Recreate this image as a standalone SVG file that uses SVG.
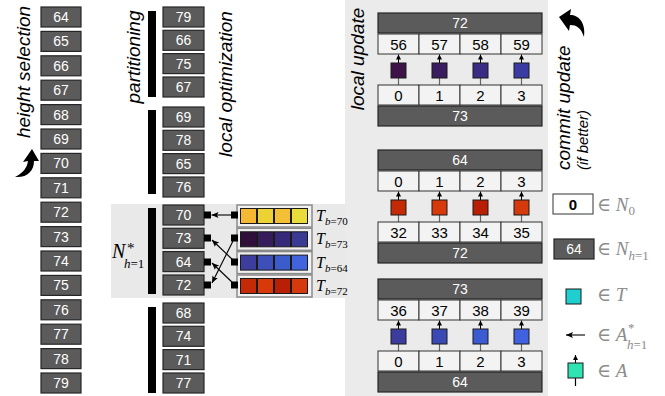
<svg xmlns="http://www.w3.org/2000/svg" width="665" height="396" viewBox="0 0 665 396">
<defs>
<style>
.nb{fill:#5b5b5b;stroke:#262626;stroke-width:1.2}
.nt{fill:#fff;font-family:"Liberation Sans",Arial,sans-serif;font-size:14px;text-anchor:middle}
.wc{fill:#f3f3f3;stroke:#333;stroke-width:1}
.wt{fill:#000;font-family:"Liberation Sans",Arial,sans-serif;font-size:15px;text-anchor:middle}
.lbl{fill:#000;font-family:"Liberation Sans",Arial,sans-serif;font-size:19px;font-style:italic;text-anchor:middle}
.bar{fill:#000}
.sq{stroke:#1a1a1a;stroke-width:1}
.up{stroke:#000;stroke-width:1;marker-end:url(#ahs)}
.dn{stroke:#666;stroke-width:1.2}
.pin{fill:#000}
.con{stroke:#000;stroke-width:1.1;fill:none;marker-end:url(#ah)}
.tb{fill:#f2f2f2;stroke:#8a8a8a;stroke-width:1.5}
.m{font-family:"Liberation Serif","DejaVu Serif",serif;font-style:italic;fill:#000}
.lg{font-family:"Liberation Serif","DejaVu Serif",serif;fill:#8c8c8c;font-size:19px}
.lgs{font-family:"Liberation Serif","DejaVu Serif",serif;fill:#8c8c8c;font-size:13px}
</style>
<marker id="ah" markerUnits="userSpaceOnUse" markerWidth="7" markerHeight="6" refX="7" refY="3" orient="auto"><path d="M0,0 L7,3 L0,6 L1.5,3 z" fill="#000"/></marker>
<marker id="ahs" markerUnits="userSpaceOnUse" markerWidth="5" markerHeight="5" refX="5" refY="2.5" orient="auto"><path d="M0,0 L5,2.5 L0,5 z" fill="#000"/></marker>
</defs>
<rect width="665" height="396" fill="#fff"/>
<rect x="111" y="204" width="236" height="94" fill="#e9e9e9"/>
<rect x="345" y="0" width="203" height="396" fill="#ebebeb"/>

<g id="labels">
<text class="lbl" transform="translate(30,72) rotate(-90)">height selection</text>
<text class="lbl" transform="translate(140,57) rotate(-90)">partitioning</text>
<text class="lbl" transform="translate(232,84) rotate(-90)">local optimization</text>
<text class="lbl" transform="translate(364,59) rotate(-90)">local update</text>
<text class="lbl" style="text-anchor:start" transform="translate(570,170) rotate(-90)">commit update</text>
<text class="lbl" style="text-anchor:start;font-size:15px" transform="translate(588,170) rotate(-90)">(if better)</text>
<path id="arrow-left" d="M15,177 C23,173 27,168 28,161 L23,162 L32,149 L39,161 L34,161 C34,171 27,178 15,177 Z" fill="#000"/>
<path id="arrow-right" d="M559,17 L571,9 L570,15 C579,15 586,23 584,37 C581,28 577,25 570,25 L569,31 Z" fill="#000"/>
</g>

<g id="column1">
<g id="c1-64"><rect class="nb" x="41" y="7" width="40" height="20"/><text class="nt" x="61" y="22">64</text></g>
<g id="c1-65"><rect class="nb" x="41" y="31.4" width="40" height="20"/><text class="nt" x="61" y="46.4">65</text></g>
<g id="c1-66"><rect class="nb" x="41" y="55.8" width="40" height="20"/><text class="nt" x="61" y="70.8">66</text></g>
<g id="c1-67"><rect class="nb" x="41" y="80.2" width="40" height="20"/><text class="nt" x="61" y="95.2">67</text></g>
<g id="c1-68"><rect class="nb" x="41" y="104.6" width="40" height="20"/><text class="nt" x="61" y="119.6">68</text></g>
<g id="c1-69"><rect class="nb" x="41" y="129" width="40" height="20"/><text class="nt" x="61" y="144">69</text></g>
<g id="c1-70"><rect class="nb" x="41" y="153.4" width="40" height="20"/><text class="nt" x="61" y="168.4">70</text></g>
<g id="c1-71"><rect class="nb" x="41" y="177.8" width="40" height="20"/><text class="nt" x="61" y="192.8">71</text></g>
<g id="c1-72"><rect class="nb" x="41" y="202.2" width="40" height="20"/><text class="nt" x="61" y="217.2">72</text></g>
<g id="c1-73"><rect class="nb" x="41" y="226.6" width="40" height="20"/><text class="nt" x="61" y="241.6">73</text></g>
<g id="c1-74"><rect class="nb" x="41" y="251" width="40" height="20"/><text class="nt" x="61" y="266">74</text></g>
<g id="c1-75"><rect class="nb" x="41" y="275.4" width="40" height="20"/><text class="nt" x="61" y="290.4">75</text></g>
<g id="c1-76"><rect class="nb" x="41" y="299.8" width="40" height="20"/><text class="nt" x="61" y="314.8">76</text></g>
<g id="c1-77"><rect class="nb" x="41" y="324.2" width="40" height="20"/><text class="nt" x="61" y="339.2">77</text></g>
<g id="c1-78"><rect class="nb" x="41" y="348.6" width="40" height="20"/><text class="nt" x="61" y="363.6">78</text></g>
<g id="c1-79"><rect class="nb" x="41" y="373" width="40" height="20"/><text class="nt" x="61" y="388">79</text></g>
</g>

<g id="column2">
<rect class="bar" x="148" y="11" width="8" height="86"/>
<rect class="bar" x="148" y="110" width="8" height="84"/>
<rect class="bar" x="148" y="208" width="8" height="86"/>
<rect class="bar" x="148" y="307" width="8" height="86"/>
<g id="c2-79"><rect class="nb" x="163" y="7" width="41" height="20"/><text class="nt" x="183.5" y="22">79</text></g>
<g id="c2-66"><rect class="nb" x="163" y="30.3" width="41" height="20"/><text class="nt" x="183.5" y="45.3">66</text></g>
<g id="c2-75"><rect class="nb" x="163" y="53.6" width="41" height="20"/><text class="nt" x="183.5" y="68.6">75</text></g>
<g id="c2-67"><rect class="nb" x="163" y="77" width="41" height="20"/><text class="nt" x="183.5" y="92">67</text></g>
<g id="c2-69"><rect class="nb" x="163" y="107" width="41" height="20"/><text class="nt" x="183.5" y="122">69</text></g>
<g id="c2-78"><rect class="nb" x="163" y="130.3" width="41" height="20"/><text class="nt" x="183.5" y="145.3">78</text></g>
<g id="c2-65"><rect class="nb" x="163" y="153.6" width="41" height="20"/><text class="nt" x="183.5" y="168.6">65</text></g>
<g id="c2-76"><rect class="nb" x="163" y="177" width="41" height="20"/><text class="nt" x="183.5" y="192">76</text></g>
<g id="c2-70"><rect class="nb" x="163" y="205" width="41" height="20"/><text class="nt" x="183.5" y="220">70</text><rect class="pin" x="204" y="211.5" width="7" height="7"/></g>
<g id="c2-73"><rect class="nb" x="163" y="228.3" width="41" height="20"/><text class="nt" x="183.5" y="243.3">73</text><rect class="pin" x="204" y="234.5" width="7" height="7"/></g>
<g id="c2-64"><rect class="nb" x="163" y="251.6" width="41" height="20"/><text class="nt" x="183.5" y="266.6">64</text><rect class="pin" x="204" y="258.5" width="7" height="7"/></g>
<g id="c2-72"><rect class="nb" x="163" y="275" width="41" height="20"/><text class="nt" x="183.5" y="290">72</text><rect class="pin" x="204" y="281.5" width="7" height="7"/></g>
<g id="c2-68"><rect class="nb" x="163" y="303" width="41" height="20"/><text class="nt" x="183.5" y="318">68</text></g>
<g id="c2-74"><rect class="nb" x="163" y="326.3" width="41" height="20"/><text class="nt" x="183.5" y="341.3">74</text></g>
<g id="c2-71"><rect class="nb" x="163" y="349.6" width="41" height="20"/><text class="nt" x="183.5" y="364.6">71</text></g>
<g id="c2-77"><rect class="nb" x="163" y="373" width="41" height="20"/><text class="nt" x="183.5" y="388">77</text></g>
<text class="m" x="112" y="258" font-size="20">N</text>
<text class="m" x="127" y="253" font-size="15" style="font-style:normal">*</text>
<text class="m" x="124" y="268" font-size="13">h<tspan style="font-style:normal">=1</tspan></text>
</g>

<g id="tiles">
<g id="t70"><rect class="tb" x="237" y="205" width="75" height="22"/>
<rect class="sq" x="240.5" y="208.5" width="16" height="15" fill="#f6b833"/><rect class="sq" x="257.5" y="208.5" width="16" height="15" fill="#ecd234"/><rect class="sq" x="274.5" y="208.5" width="16" height="15" fill="#f2bf35"/><rect class="sq" x="291.5" y="208.5" width="16" height="15" fill="#e8dc3a"/>
<rect class="pin" x="231" y="211.5" width="7" height="7"/>
<text class="m" x="316" y="221" font-size="16">T</text><text class="m" x="325" y="225" font-size="11">b<tspan style="font-style:normal">=70</tspan></text></g>
<g id="t73"><rect class="tb" x="237" y="228.3" width="75" height="22"/>
<rect class="sq" x="240.5" y="231.8" width="16" height="15" fill="#30103a"/><rect class="sq" x="257.5" y="231.8" width="16" height="15" fill="#361c5a"/><rect class="sq" x="274.5" y="231.8" width="16" height="15" fill="#36297a"/><rect class="sq" x="291.5" y="231.8" width="16" height="15" fill="#3a3a95"/>
<rect class="pin" x="231" y="234.5" width="7" height="7"/>
<text class="m" x="316" y="244.3" font-size="16">T</text><text class="m" x="325" y="248.3" font-size="11">b<tspan style="font-style:normal">=73</tspan></text></g>
<g id="t64"><rect class="tb" x="237" y="251.6" width="75" height="22"/>
<rect class="sq" x="240.5" y="255.1" width="16" height="15" fill="#3d3d9e"/><rect class="sq" x="257.5" y="255.1" width="16" height="15" fill="#3f4fba"/><rect class="sq" x="274.5" y="255.1" width="16" height="15" fill="#3c5ccc"/><rect class="sq" x="291.5" y="255.1" width="16" height="15" fill="#4164de"/>
<rect class="pin" x="231" y="258.5" width="7" height="7"/>
<text class="m" x="316" y="267.6" font-size="16">T</text><text class="m" x="325" y="271.6" font-size="11">b<tspan style="font-style:normal">=64</tspan></text></g>
<g id="t72"><rect class="tb" x="237" y="275" width="75" height="22"/>
<rect class="sq" x="240.5" y="278.5" width="16" height="15" fill="#c42a06"/><rect class="sq" x="257.5" y="278.5" width="16" height="15" fill="#d8390a"/><rect class="sq" x="274.5" y="278.5" width="16" height="15" fill="#b81f05"/><rect class="sq" x="291.5" y="278.5" width="16" height="15" fill="#d43a0b"/>
<rect class="pin" x="231" y="281.5" width="7" height="7"/>
<text class="m" x="316" y="291" font-size="16">T</text><text class="m" x="325" y="295" font-size="11">b<tspan style="font-style:normal">=72</tspan></text></g>
</g>

<g id="connectors">
<line class="con" x1="232" y1="215" x2="211.5" y2="215"/>
<line class="con" x1="234" y1="239" x2="212" y2="283"/>
<line class="con" x1="234" y1="261" x2="212" y2="240"/>
<line class="con" x1="234" y1="284" x2="212" y2="263"/>
</g>

<g id="block1">
<rect class="nb" x="378" y="13" width="164" height="20"/><text class="nt" x="460" y="28" font-size="15">72</text>
<rect class="wc" x="378" y="34" width="41" height="20"/><rect class="wc" x="419" y="34" width="41" height="20"/><rect class="wc" x="460" y="34" width="41" height="20"/><rect class="wc" x="501" y="34" width="41" height="20"/>
<text class="wt" x="398.5" y="49.5">56</text><text class="wt" x="439.5" y="49.5">57</text><text class="wt" x="480.5" y="49.5">58</text><text class="wt" x="521.5" y="49.5">59</text>
<line class="dn" x1="398.5" y1="78" x2="398.5" y2="85"/><line class="dn" x1="439.5" y1="78" x2="439.5" y2="85"/><line class="dn" x1="480.5" y1="78" x2="480.5" y2="85"/><line class="dn" x1="521.5" y1="78" x2="521.5" y2="85"/>
<line class="up" x1="398.5" y1="63" x2="398.5" y2="54.5"/><line class="up" x1="439.5" y1="63" x2="439.5" y2="54.5"/><line class="up" x1="480.5" y1="63" x2="480.5" y2="54.5"/><line class="up" x1="521.5" y1="63" x2="521.5" y2="54.5"/>
<rect class="sq" x="391" y="63" width="15" height="15" fill="#3e1448"/><rect class="sq" x="432" y="63" width="15" height="15" fill="#3a1d5e"/><rect class="sq" x="473" y="63" width="15" height="15" fill="#3a2c85"/><rect class="sq" x="514" y="63" width="15" height="15" fill="#3b3ca2"/>
<rect class="wc" x="378" y="85" width="41" height="20"/><rect class="wc" x="419" y="85" width="41" height="20"/><rect class="wc" x="460" y="85" width="41" height="20"/><rect class="wc" x="501" y="85" width="41" height="20"/>
<text class="wt" x="398.5" y="100.5">0</text><text class="wt" x="439.5" y="100.5">1</text><text class="wt" x="480.5" y="100.5">2</text><text class="wt" x="521.5" y="100.5">3</text>
<rect class="nb" x="378" y="106" width="164" height="20"/><text class="nt" x="460" y="121" font-size="15">73</text>
</g>

<g id="block2">
<rect class="nb" x="378" y="150" width="164" height="20"/><text class="nt" x="460" y="165" font-size="15">64</text>
<rect class="wc" x="378" y="171" width="41" height="20"/><rect class="wc" x="419" y="171" width="41" height="20"/><rect class="wc" x="460" y="171" width="41" height="20"/><rect class="wc" x="501" y="171" width="41" height="20"/>
<text class="wt" x="398.5" y="186.5">0</text><text class="wt" x="439.5" y="186.5">1</text><text class="wt" x="480.5" y="186.5">2</text><text class="wt" x="521.5" y="186.5">3</text>
<line class="dn" x1="398.5" y1="215" x2="398.5" y2="222"/><line class="dn" x1="439.5" y1="215" x2="439.5" y2="222"/><line class="dn" x1="480.5" y1="215" x2="480.5" y2="222"/><line class="dn" x1="521.5" y1="215" x2="521.5" y2="222"/>
<line class="up" x1="398.5" y1="200" x2="398.5" y2="191.5"/><line class="up" x1="439.5" y1="200" x2="439.5" y2="191.5"/><line class="up" x1="480.5" y1="200" x2="480.5" y2="191.5"/><line class="up" x1="521.5" y1="200" x2="521.5" y2="191.5"/>
<rect class="sq" x="391" y="200" width="15" height="15" fill="#c42a06"/><rect class="sq" x="432" y="200" width="15" height="15" fill="#d8390a"/><rect class="sq" x="473" y="200" width="15" height="15" fill="#b81f05"/><rect class="sq" x="514" y="200" width="15" height="15" fill="#d43a0b"/>
<rect class="wc" x="378" y="222" width="41" height="20"/><rect class="wc" x="419" y="222" width="41" height="20"/><rect class="wc" x="460" y="222" width="41" height="20"/><rect class="wc" x="501" y="222" width="41" height="20"/>
<text class="wt" x="398.5" y="237.5">32</text><text class="wt" x="439.5" y="237.5">33</text><text class="wt" x="480.5" y="237.5">34</text><text class="wt" x="521.5" y="237.5">35</text>
<rect class="nb" x="378" y="243" width="164" height="20"/><text class="nt" x="460" y="258" font-size="15">72</text>
</g>

<g id="block3">
<rect class="nb" x="378" y="279" width="164" height="20"/><text class="nt" x="460" y="294" font-size="15">73</text>
<rect class="wc" x="378" y="300" width="41" height="20"/><rect class="wc" x="419" y="300" width="41" height="20"/><rect class="wc" x="460" y="300" width="41" height="20"/><rect class="wc" x="501" y="300" width="41" height="20"/>
<text class="wt" x="398.5" y="315.5">36</text><text class="wt" x="439.5" y="315.5">37</text><text class="wt" x="480.5" y="315.5">38</text><text class="wt" x="521.5" y="315.5">39</text>
<line class="dn" x1="398.5" y1="344" x2="398.5" y2="351"/><line class="dn" x1="439.5" y1="344" x2="439.5" y2="351"/><line class="dn" x1="480.5" y1="344" x2="480.5" y2="351"/><line class="dn" x1="521.5" y1="344" x2="521.5" y2="351"/>
<line class="up" x1="398.5" y1="329" x2="398.5" y2="320.5"/><line class="up" x1="439.5" y1="329" x2="439.5" y2="320.5"/><line class="up" x1="480.5" y1="329" x2="480.5" y2="320.5"/><line class="up" x1="521.5" y1="329" x2="521.5" y2="320.5"/>
<rect class="sq" x="391" y="329" width="15" height="15" fill="#3c3c9e"/><rect class="sq" x="432" y="329" width="15" height="15" fill="#3a49b4"/><rect class="sq" x="473" y="329" width="15" height="15" fill="#3c5ad2"/><rect class="sq" x="514" y="329" width="15" height="15" fill="#4062e0"/>
<rect class="wc" x="378" y="351" width="41" height="20"/><rect class="wc" x="419" y="351" width="41" height="20"/><rect class="wc" x="460" y="351" width="41" height="20"/><rect class="wc" x="501" y="351" width="41" height="20"/>
<text class="wt" x="398.5" y="366.5">0</text><text class="wt" x="439.5" y="366.5">1</text><text class="wt" x="480.5" y="366.5">2</text><text class="wt" x="521.5" y="366.5">3</text>
<rect class="nb" x="378" y="372" width="164" height="20"/><text class="nt" x="460" y="387" font-size="15">64</text>
</g>

<g id="legend">
<g id="lg-n0"><rect x="553" y="194" width="40" height="20" fill="#fff" stroke="#333"/><text class="wt" x="573" y="209.5" font-weight="bold">0</text>
<text class="lg" x="597" y="211">∈ <tspan font-style="italic">N</tspan><tspan font-size="13" dy="4">0</tspan></text></g>
<g id="lg-n1"><rect class="nb" x="554" y="239" width="40" height="20"/><text class="nt" x="574" y="254">64</text>
<text class="lg" x="597" y="255">∈ <tspan font-style="italic">N</tspan><tspan font-size="13" dy="5" font-style="italic">h</tspan><tspan font-size="13">=1</tspan></text></g>
<g id="lg-t"><rect class="sq" x="566" y="289" width="15" height="15" fill="#1fcfcf"/>
<text class="lg" x="597" y="301">∈ <tspan font-style="italic">T</tspan></text></g>
<g id="lg-astar"><line class="con" x1="585" y1="335" x2="566" y2="335"/>
<text class="lg" x="597" y="341">∈ <tspan font-style="italic">A</tspan></text>
<text class="lgs" x="628" y="332">*</text>
<text class="lgs" x="627" y="349"><tspan font-style="italic">h</tspan>=1</text></g>
<g id="lg-a"><line class="dn" x1="575.5" y1="378" x2="575.5" y2="386" style="stroke:#000"/><line class="up" x1="575.5" y1="363" x2="575.5" y2="355"/>
<rect class="sq" x="568" y="363" width="15" height="15" fill="#2fe3b2"/>
<text class="lg" x="597" y="377">∈ <tspan font-style="italic">A</tspan></text></g>
</g>
</svg>
